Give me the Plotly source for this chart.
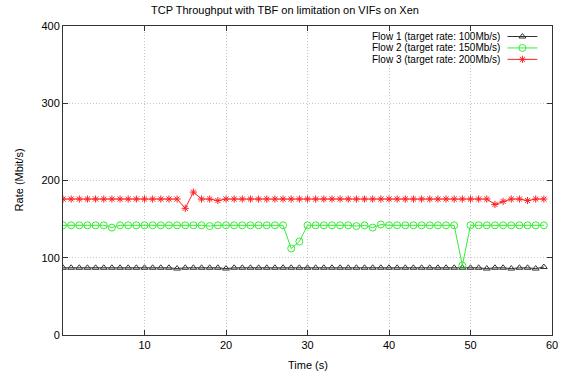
import plotly.graph_objects as go

time_s = [0, 1, 2, 3, 4, 5, 6, 7, 8, 9, 10, 11, 12, 13, 14, 15, 16, 17, 18, 19,
          20, 21, 22, 23, 24, 25, 26, 27, 28, 29, 30, 31, 32, 33, 34, 35, 36, 37, 38, 39,
          40, 41, 42, 43, 44, 45, 46, 47, 48, 49, 50, 51, 52, 53, 54, 55, 56, 57, 58, 59]

flow1 = [87, 87, 87, 87, 87, 87, 87, 87, 87, 87, 87, 87, 87, 87, 86, 87, 87, 87, 87, 87,
         86, 87, 87, 87, 87, 87, 87, 87, 87, 87, 87, 87, 87, 87, 87, 87, 87, 87, 87, 87,
         87, 87, 87, 87, 87, 87, 87, 87, 87, 87, 87, 87, 86, 87, 87, 86, 87, 87, 86, 88]

flow2 = [142, 142, 142, 142, 142, 142, 139, 142, 142, 142, 142, 142, 142, 142, 142, 142, 142, 142, 141, 142,
         142, 142, 142, 142, 142, 142, 142, 142, 112, 121, 142, 142, 142, 142, 142, 142, 141, 142, 139, 143,
         142, 142, 142, 142, 142, 142, 142, 142, 142, 90, 142, 142, 142, 142, 142, 142, 142, 142, 142, 142]

flow3 = [176, 176, 176, 176, 176, 176, 176, 176, 176, 176, 176, 176, 176, 176, 176, 164, 185, 176, 176, 174,
         176, 176, 176, 176, 176, 176, 176, 176, 176, 176, 176, 176, 176, 176, 176, 176, 176, 176, 176, 176,
         176, 176, 176, 176, 176, 176, 176, 176, 176, 176, 176, 176, 176, 169, 173, 176, 176, 174, 176, 176]

series_names = ["Flow 1 (target rate: 100Mb/s)",
                "Flow 2 (target rate: 150Mb/s)",
                "Flow 3 (target rate: 200Mb/s)"]
series_values = [flow1, flow2, flow3]
series_colors = ["#333333", "#33ee33", "#ff2020"]
series_symbols = ["triangle-up-open", "circle-open", "asterisk-open"]
series_sizes = [6, 7, 6]

x_ticks = [10, 20, 30, 40, 50, 60]
y_ticks = [0, 100, 200, 300, 400]

FONT = "Liberation Sans, Arial, Helvetica, sans-serif"

fig = go.Figure()
for name, vals, col, sym, sz in zip(series_names, series_values, series_colors,
                                    series_symbols, series_sizes):
    fig.add_trace(go.Scatter(
        x=time_s, y=vals, name=name, mode="lines+markers",
        line=dict(color=col, width=1),
        marker=dict(symbol=sym, size=sz, color=col, line=dict(color=col, width=1)),
        showlegend=False, xaxis="x", yaxis="y"))

# gnuplot-style key (text right, sample to the right)
key_y = [0.966, 0.929, 0.892]
for name, col, sym, sz, ky in zip(series_names, series_colors, series_symbols,
                                  series_sizes, key_y):
    fig.add_trace(go.Scatter(x=[0.909, 0.970], y=[ky, ky], mode="lines",
                             line=dict(color=col, width=1), showlegend=False,
                             xaxis="x2", yaxis="y2", hoverinfo="skip"))
    fig.add_trace(go.Scatter(x=[0.9395], y=[ky], mode="markers",
                             marker=dict(symbol=sym, size=sz, color=col,
                                         line=dict(color=col, width=1)),
                             showlegend=False, xaxis="x2", yaxis="y2", hoverinfo="skip"))
    fig.add_annotation(x=0.895, y=ky, xref="paper", yref="paper", text=name,
                       showarrow=False, xanchor="right", yanchor="middle",
                       borderpad=0,
                       font=dict(family=FONT, size=10, color="#000000"))

axis_common = dict(showline=True, linecolor="#333333", linewidth=1, mirror="ticks",
                   ticks="inside", ticklen=5, tickcolor="#333333", zeroline=False,
                   showgrid=True, gridcolor="#c8c8c8", griddash="1px,2px", gridwidth=1,
                   ticklabeloverflow="allow",
                   tickfont=dict(family=FONT, size=11, color="#000000"))

fig.update_layout(
    width=570, height=383,
    margin=dict(l=63, r=13, t=26, b=48),
    paper_bgcolor="white", plot_bgcolor="white",
    font=dict(family=FONT, size=11, color="#000000"),
    title=dict(text="TCP Throughput with TBF on limitation on VIFs on Xen",
               x=0.5, xanchor="center", y=0.973, yanchor="middle", yref="container",
               font=dict(family=FONT, size=11, color="#000000")),
    xaxis=dict(range=[0, 60], tickvals=x_ticks, ticktext=[str(v) for v in x_ticks],
               **axis_common),
    yaxis=dict(range=[0, 400], tickvals=y_ticks, ticktext=[str(v) for v in y_ticks],
               **axis_common),
    xaxis2=dict(range=[0, 1], overlaying="x", visible=False, fixedrange=True),
    yaxis2=dict(range=[0, 1], overlaying="y", visible=False, fixedrange=True),
    showlegend=False,
)

fig.add_annotation(x=0.5, y=-0.097, xref="paper", yref="paper", text="Time (s)",
                   showarrow=False, xanchor="center", yanchor="middle",
                   font=dict(family=FONT, size=11, color="#000000"))
fig.add_annotation(x=-0.091, y=0.502, xref="paper", yref="paper", text="Rate (Mbit/s)",
                   showarrow=False, xanchor="center", yanchor="middle", textangle=-90,
                   font=dict(family=FONT, size=11, color="#000000"))

fig.write_html("out.html", config={"displayModeBar": False},
               post_script="document.body.style.margin='0px';document.body.style.padding='0px';")
